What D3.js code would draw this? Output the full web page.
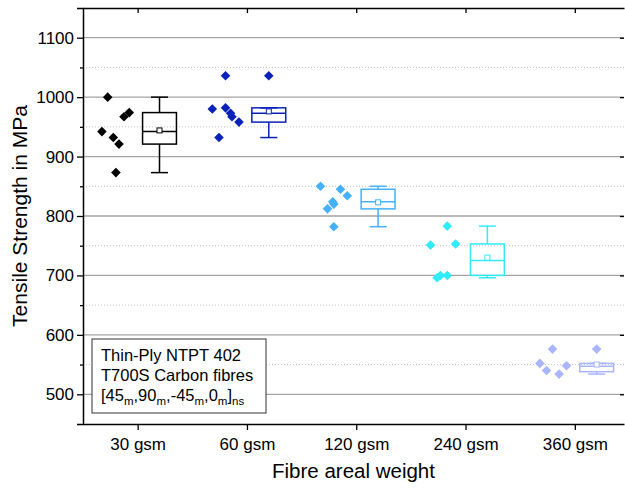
<!DOCTYPE html>
<html>
<head>
<meta charset="utf-8">
<script src="https://cdn.jsdelivr.net/npm/d3@7"></script>
<style>
  html, body { margin: 0; padding: 0; background: #fff; }
  svg { display: block; font-family: "Liberation Sans", Arial, sans-serif; }
</style>
</head>
<body>
<svg id="chart" width="625" height="489"></svg>
<script>
// ---------------- data ----------------
const categories = ["30 gsm", "60 gsm", "120 gsm", "240 gsm", "360 gsm"];
const seriesColors = ["#000000", "#0a22b8", "#45b1fc", "#30ecfa", "#a9b5fd"];

// individual measurements (MPa)
const strength30  = [1000, 942, 932, 921, 873, 967, 974];
const strength60  = [1036, 980, 982, 967, 958, 932, 973];
const strength120 = [850, 845, 834, 820, 812, 782, 824];
const strength240 = [783, 753, 751, 700, 700, 696];
const strength360 = [576, 552, 540, 534, 548];

// horizontal jitter of each measurement (category units)
const jitter30  = [-0.274, -0.327, -0.223, -0.171, -0.199, -0.125, -0.077];
const jitter60  = [-0.196, -0.317, -0.196, -0.137, -0.073, -0.256, -0.150];
const jitter120 = [-0.327, -0.144, -0.082, -0.205, -0.263, -0.205, -0.215];
const jitter240 = [-0.167, -0.091, -0.320, -0.230, -0.167, -0.260];
const jitter360 = [-0.204, -0.320, -0.259, -0.144, -0.076];

// box statistics (MPa)
const whiskerLow  = [873, 932, 782, 696, 534];
const quartile1   = [921, 958, 812, 700, 538];
const medians     = [942, 973, 824, 725, 547];
const quartile3   = [974, 982, 845, 753, 552];
const whiskerHigh = [1000, 982, 850, 783, 552];
const means       = [944, 976, 823, 730, 550];
const outliers    = [[], [1036], [], [], [576]];

const yMajorTicks = [500, 600, 700, 800, 900, 1000, 1100];
const yMinorTicks = [550, 650, 750, 850, 950, 1050];

const strengths = [strength30, strength60, strength120, strength240, strength360];
const jitters = [jitter30, jitter60, jitter120, jitter240, jitter360];

// ---------------- layout ----------------
const svg = d3.select("#chart");
const L = 83, R = 624, T = 8, B = 424;

const x = d3.scaleLinear().domain([0.5, 5.45]).range([L, R]);
const y = d3.scaleLinear().domain([450, 1150]).range([B, T]);

const boxOffset = 0.2, boxHalf = 0.155, capHalf = 0.078;

// gridlines
const grid = svg.append("g");
grid.selectAll("line.minor").data(yMinorTicks).join("line")
  .attr("x1", L).attr("x2", R)
  .attr("y1", d => y(d)).attr("y2", d => y(d))
  .attr("stroke", "#c4c4c4").attr("stroke-width", 1)
  .attr("stroke-dasharray", "1,2");
grid.selectAll("line.major").data(yMajorTicks).join("line")
  .attr("x1", L).attr("x2", R)
  .attr("y1", d => y(d)).attr("y2", d => y(d))
  .attr("stroke", "#a3a3a3").attr("stroke-width", 1.3);

// annotation box (drawn over gridlines)
const note = svg.append("g");
note.append("rect")
  .attr("x", 92).attr("y", 339).attr("width", 174).attr("height", 74)
  .attr("fill", "#fff").attr("stroke", "#333").attr("stroke-width", 1);
note.append("text").attr("x", 101).attr("y", 361)
  .attr("font-size", 16.5).attr("fill", "#000").text("Thin-Ply NTPT 402");
note.append("text").attr("x", 101).attr("y", 381)
  .attr("font-size", 16.5).attr("fill", "#000").text("T700S Carbon fibres");
const t3 = note.append("text").attr("x", 101).attr("y", 401)
  .attr("font-size", 16.5).attr("fill", "#000");
const parts = [["[45", false], ["m", true], [",90", false], ["m", true],
               [",-45", false], ["m", true], [",0", false], ["m", true],
               ["]", false], ["ns", true]];
let shifted = false;
parts.forEach(([s, sub]) => {
  const ts = t3.append("tspan").text(s);
  if (sub && !shifted) { ts.attr("dy", 4).attr("font-size", 11.5); shifted = true; }
  else if (sub) { ts.attr("font-size", 11.5); }
  else if (!sub && shifted) { ts.attr("dy", -4); shifted = false; }
});

// scatter points
const pts = svg.append("g");
categories.forEach((c, i) => {
  const vals = strengths[i];
  pts.selectAll(null).data(vals).join("path")
    .attr("d", d3.symbol(d3.symbolSquare, 46)())
    .attr("transform", (d, k) => `translate(${x(i + 1 + jitters[i][k])},${y(d)}) rotate(45)`)
    .attr("fill", seriesColors[i]);
});

// box plots
const boxes = svg.append("g");
categories.forEach((c, i) => {
  const cx = i + 1 + boxOffset;
  const col = seriesColors[i];
  const g = boxes.append("g").attr("stroke", col).attr("stroke-width", 1.5).attr("fill", "none");
  g.append("line").attr("x1", x(cx)).attr("x2", x(cx))
    .attr("y1", y(quartile3[i])).attr("y2", y(whiskerHigh[i]));
  g.append("line").attr("x1", x(cx)).attr("x2", x(cx))
    .attr("y1", y(quartile1[i])).attr("y2", y(whiskerLow[i]));
  g.append("line").attr("x1", x(cx - capHalf)).attr("x2", x(cx + capHalf))
    .attr("y1", y(whiskerHigh[i])).attr("y2", y(whiskerHigh[i]));
  g.append("line").attr("x1", x(cx - capHalf)).attr("x2", x(cx + capHalf))
    .attr("y1", y(whiskerLow[i])).attr("y2", y(whiskerLow[i]));
  g.append("rect").attr("x", x(cx - boxHalf)).attr("width", x(cx + boxHalf) - x(cx - boxHalf))
    .attr("y", y(quartile3[i])).attr("height", y(quartile1[i]) - y(quartile3[i]));
  g.append("line").attr("x1", x(cx - boxHalf)).attr("x2", x(cx + boxHalf))
    .attr("y1", y(medians[i])).attr("y2", y(medians[i]));
  g.append("rect").attr("x", x(cx) - 2.5).attr("y", y(means[i]) - 2.5)
    .attr("width", 5).attr("height", 5).attr("fill", "#fff").attr("stroke-width", 1);
  boxes.selectAll(null).data(outliers[i]).join("path")
    .attr("d", d3.symbol(d3.symbolSquare, 46)())
    .attr("transform", d => `translate(${x(cx)},${y(d)}) rotate(45)`)
    .attr("fill", col);
});

// axes
const axisFont = 17;
svg.append("g").attr("transform", `translate(${L},0)`)
  .call(d3.axisLeft(y).tickValues(yMajorTicks).tickSize(6).tickPadding(3).tickFormat(d3.format("d")));
svg.append("g").attr("transform", `translate(${L},0)`)
  .call(d3.axisLeft(y).tickValues(yMinorTicks).tickSize(3).tickFormat(""))
  .call(g => g.select(".domain").remove());
svg.append("g").attr("transform", `translate(${R},0)`)
  .call(d3.axisLeft(y).tickValues(yMajorTicks).tickSize(4).tickFormat(""))
  .call(g => g.select(".domain").remove());

const xAxis = svg.append("g").attr("transform", `translate(0,${B})`)
  .call(d3.axisBottom(x).tickValues([1, 2, 3, 4, 5]).tickSize(6).tickSizeOuter(0).tickPadding(8)
    .tickFormat(d => categories[d - 1]));
svg.append("g").attr("transform", `translate(0,${T})`)
  .call(d3.axisBottom(x).tickValues([1, 2, 3, 4, 5]).tickSize(5).tickSizeOuter(0).tickFormat(""));

svg.selectAll(".domain").attr("stroke", "#000").attr("stroke-width", 1.5);
svg.selectAll(".tick line").attr("stroke", "#000").attr("stroke-width", 1.3);
svg.selectAll(".tick text").attr("font-size", axisFont).attr("fill", "#000")
  .attr("font-family", "'Liberation Sans', Arial, sans-serif");
xAxis.selectAll(".tick text").attr("dy", "0.68em");

// axis titles
svg.append("text").attr("x", (L + R) / 2).attr("y", 478)
  .attr("text-anchor", "middle").attr("font-size", 20.5).attr("fill", "#000")
  .text("Fibre areal weight");
svg.append("text").attr("transform", `translate(27,${(T + B) / 2}) rotate(-90)`)
  .attr("text-anchor", "middle").attr("font-size", 21).attr("fill", "#000")
  .text("Tensile Strength in MPa");
</script>
</body>
</html>
